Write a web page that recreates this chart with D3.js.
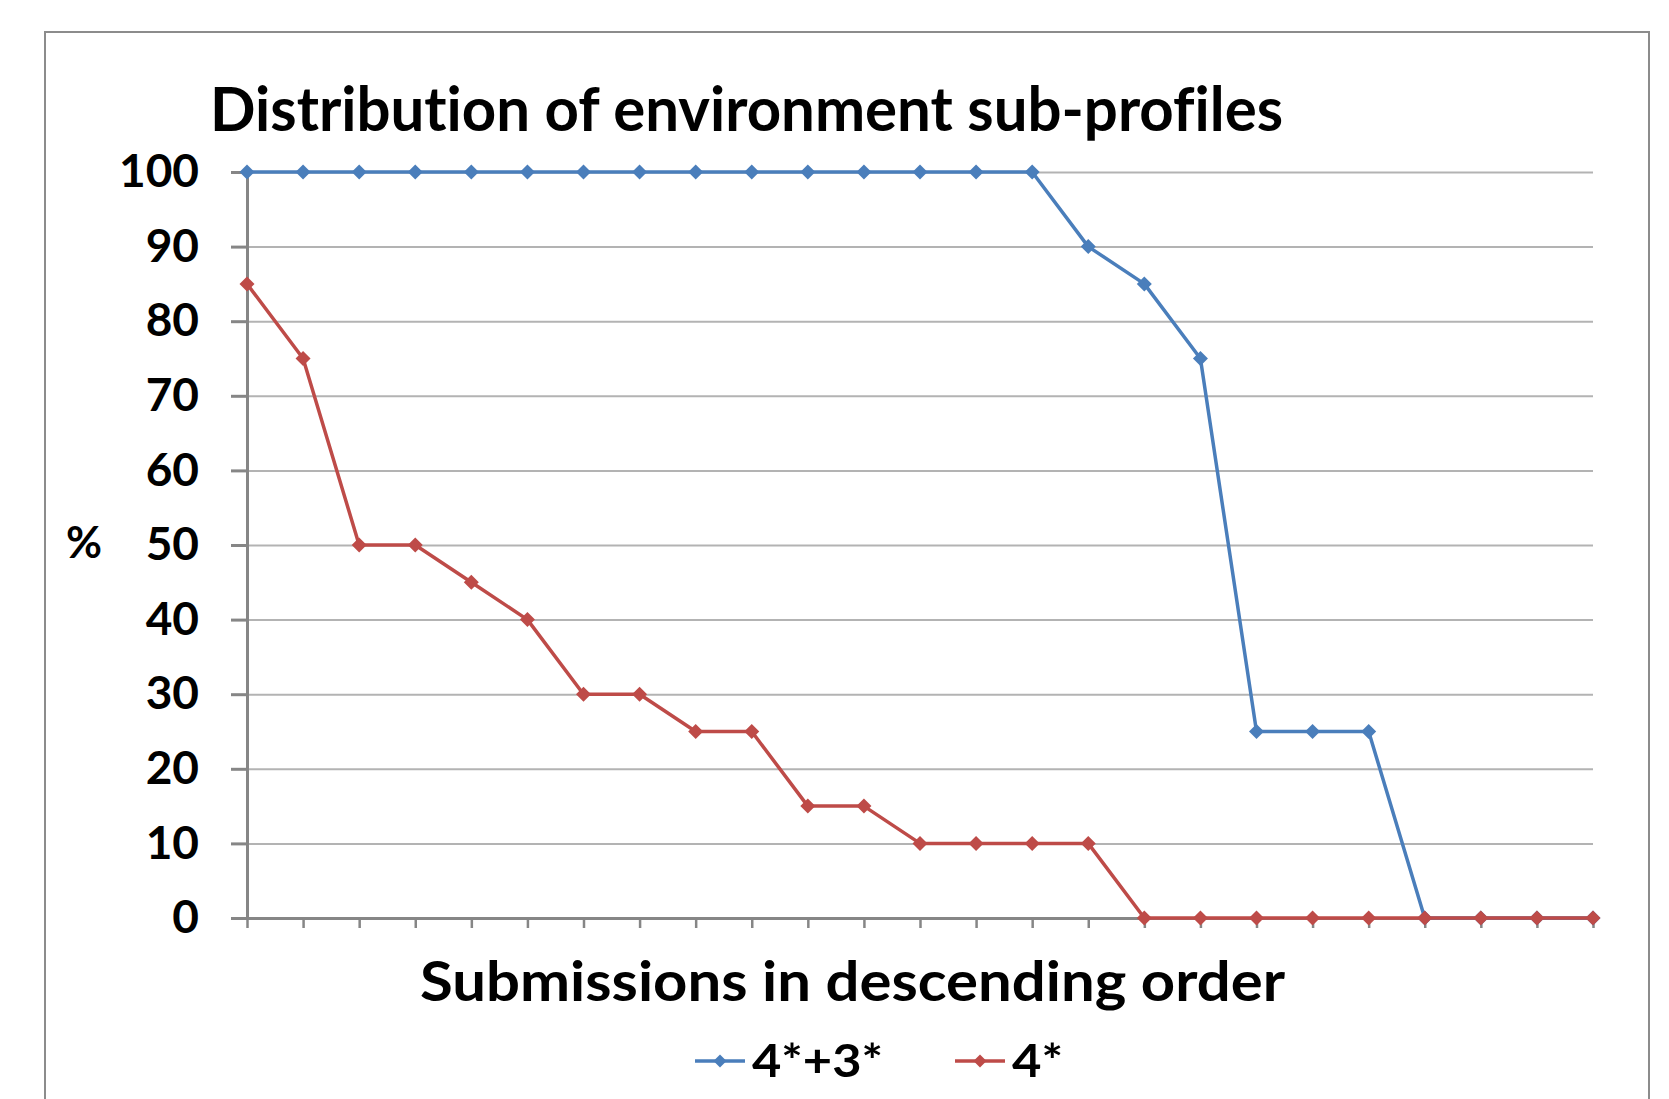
<!DOCTYPE html>
<html>
<head>
<meta charset="utf-8">
<script src="https://cdn.jsdelivr.net/npm/d3@7"></script>
<style>
  body { margin: 0; background: #fff; }
  svg text { font-family: Lato, "Open Sans", sans-serif; font-weight: 700; fill: #000;
             font-variant-ligatures: none; }
</style>
</head>
<body>
<div id="chart"></div>
<script>
// data
const submissions = d3.range(1, 26); // 25 submissions, no tick labels
const yTicks = [0, 10, 20, 30, 40, 50, 60, 70, 80, 90, 100];
const seriesNames = ["4*+3*", "4*"];
const values43 = [100, 100, 100, 100, 100, 100, 100, 100, 100, 100, 100, 100, 100, 100, 100,
                  90, 85, 75, 25, 25, 25, 0, 0, 0, 0];
const values4 = [85, 75, 50, 50, 45, 40, 30, 30, 25, 25, 15, 15, 10, 10, 10, 10,
                 0, 0, 0, 0, 0, 0, 0, 0, 0];
const colors = ["#4a7ebb", "#be4b48"];

const width = 1669, height = 1099;
const margin = { left: 247, right: 76, top: 172, bottom: 181 };
const innerWidth = width - margin.left - margin.right;
const innerHeight = height - margin.top - margin.bottom;

const svg = d3.select("#chart").append("svg")
  .attr("width", width).attr("height", height);

svg.append("rect").attr("width", width).attr("height", height).attr("fill", "#fff");

// chart frame (bottom edge runs off the picture)
svg.append("rect")
  .attr("x", 45).attr("y", 32)
  .attr("width", 1604).attr("height", 1100)
  .attr("fill", "none").attr("stroke", "#8c8c8c").attr("stroke-width", 2);

// stretch / squeeze a text to the width it has in the original
const fit = (sel, w) => sel.attr("textLength", w).attr("lengthAdjust", "spacingAndGlyphs");

const xScale = d3.scalePoint().domain(submissions).range([0, innerWidth]);
const yScale = d3.scaleLinear().domain([0, 100]).range([innerHeight, 0]);

const g = svg.append("g").attr("transform", `translate(${margin.left}, ${margin.top})`);

// gridlines
g.append("g")
  .call(d3.axisLeft(yScale).tickValues(yTicks.slice(1)).tickSize(-innerWidth).tickFormat(""))
  .call(s => s.select(".domain").remove())
  .call(s => s.selectAll("line").attr("stroke", "#b3b3b3").attr("stroke-width", 2));

// x axis
g.append("g")
  .attr("transform", `translate(0, ${innerHeight})`)
  .call(d3.axisBottom(xScale).tickSize(10).tickSizeOuter(0).tickFormat(""))
  .call(s => s.select(".domain").attr("stroke", "#868686").attr("stroke-width", 3))
  .call(s => s.selectAll("line").attr("stroke", "#868686").attr("stroke-width", 2.5));

// y axis
g.append("g")
  .call(d3.axisLeft(yScale).tickValues(yTicks).tickSize(16).tickSizeOuter(0).tickPadding(32))
  .call(s => s.select(".domain").attr("stroke", "#868686").attr("stroke-width", 3))
  .call(s => s.selectAll("line").attr("stroke", "#868686").attr("stroke-width", 3))
  .call(s => s.selectAll("text").attr("font-size", 46).attr("font-family", null).attr("fill", "#000"));

// lines
const line = d3.line().x((d, i) => xScale(submissions[i])).y(d => yScale(d));
[values43, values4].forEach((vals, k) => {
  g.append("path").datum(vals)
    .attr("d", line).attr("fill", "none")
    .attr("stroke", colors[k]).attr("stroke-width", 3.5).attr("stroke-linejoin", "round");
  g.append("g").selectAll("path").data(vals).join("path")
    .attr("transform", (d, i) => `translate(${xScale(submissions[i])}, ${yScale(d)})`)
    .attr("d", "M0,-7.5L7.5,0L0,7.5L-7.5,0Z")
    .attr("fill", colors[k]);
});

// titles
svg.append("text")
  .attr("x", 210).attr("y", 131).attr("font-size", 62)
  .text("Distribution of environment sub-profiles")
  .call(s => fit(s, 1073));

svg.append("text")
  .attr("x", 420).attr("y", 1001).attr("font-size", 56)
  .text("Submissions in descending order")
  .call(s => fit(s, 865));

svg.append("text")
  .attr("x", 66).attr("y", 558).attr("font-size", 44)
  .text("%");

// legend
const legendX = [695, 955];
const legendTextW = [131, 51];
seriesNames.forEach((name, k) => {
  const lg = svg.append("g").attr("transform", `translate(${legendX[k]}, 1061)`);
  lg.append("line").attr("x1", 0).attr("x2", 50)
    .attr("stroke", colors[k]).attr("stroke-width", 3.5);
  lg.append("path").attr("d", "M25,-6.5L31.5,0L25,6.5L18.5,0Z").attr("fill", colors[k]);
  lg.append("text").attr("x", 57).attr("y", 16).attr("font-size", 46)
    .text(name)
    .call(s => fit(s, legendTextW[k]));
});
</script>
</body>
</html>
